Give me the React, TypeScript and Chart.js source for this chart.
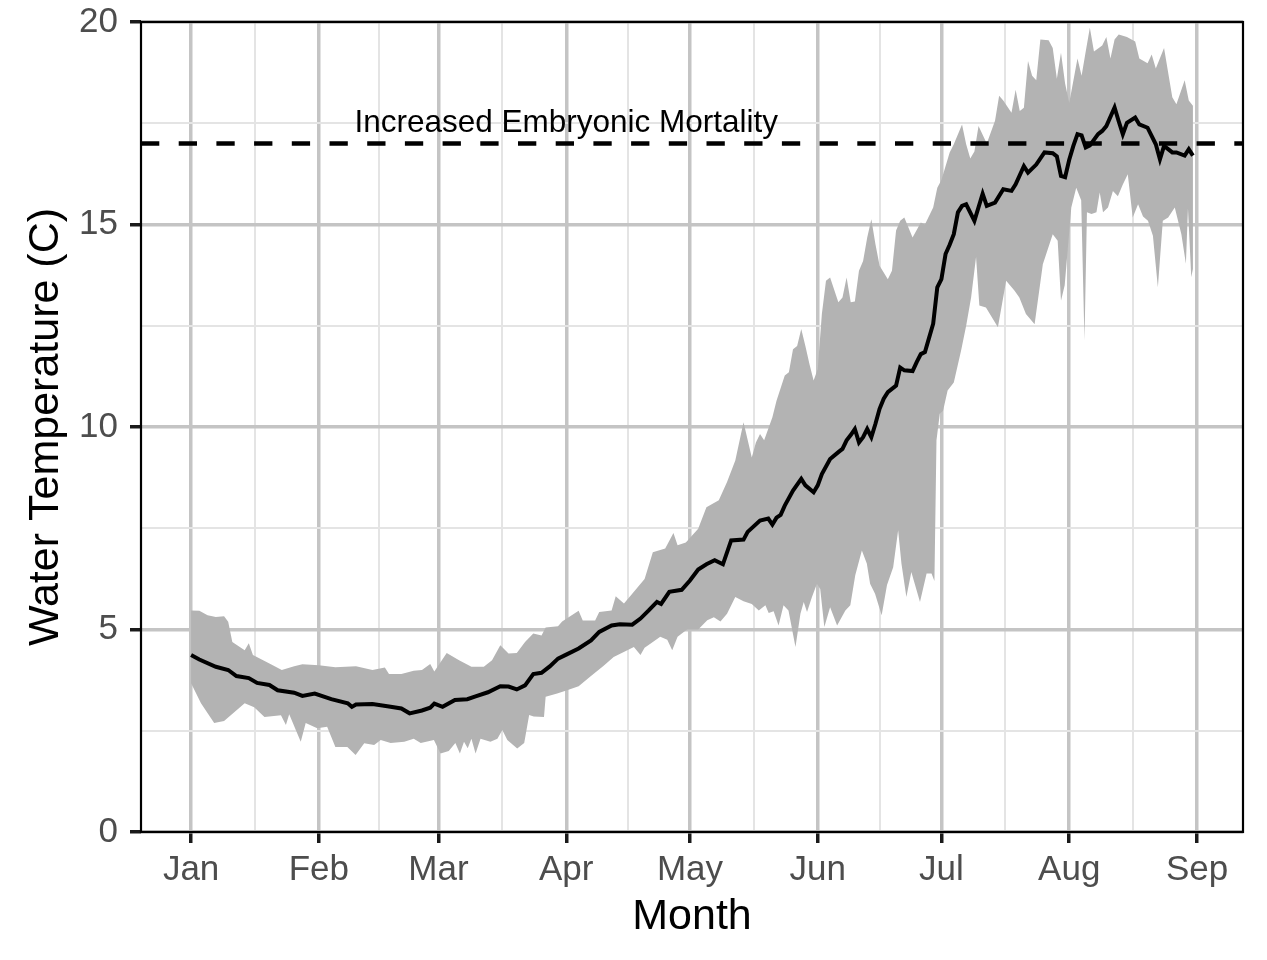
import React, { useEffect, useRef } from 'react';
import { Chart, registerables } from 'chart.js';

Chart.register(...registerables);

const FONT = "'Liberation Sans', Arial, Helvetica, sans-serif";

// Axis breaks (day of year, leap year; Jan 1 = day 0)
const monthStarts = [0, 31, 60, 91, 121, 152, 182, 213, 244];
const monthLabels = ['Jan', 'Feb', 'Mar', 'Apr', 'May', 'Jun', 'Jul', 'Aug', 'Sep'];
const yMajorTicks = [0, 5, 10, 15, 20];
const yMinorTicks = [2.5, 7.5, 12.5, 17.5];
const firstDay = 0;
const lastDay = 243;

// Mean daily water temperature (C)
const meanDays = [0, 2, 6, 9, 11, 14, 16, 19, 21, 25, 27, 30, 34, 38, 39, 40, 44, 48, 51, 53, 56, 58, 59, 61, 64, 67, 69, 72, 75, 77, 79, 81, 83, 85, 87, 89, 91, 94, 97, 99, 102, 104, 107, 109, 111, 113, 114, 116, 119, 121, 123, 125, 127, 129, 131, 134, 135, 138, 140, 141, 142, 143, 144, 146, 148, 149, 151, 152, 153, 155, 157, 158, 159, 160, 161, 162, 163, 164, 165, 166, 167, 168, 169, 171, 172, 173, 175, 176, 177, 178, 179, 180, 181, 182, 183, 184, 185, 186, 187, 188, 190, 192, 193, 195, 197, 199, 200, 202, 203, 205, 207, 209, 210, 211, 212, 213, 214, 215, 216, 217, 218, 220, 221, 222, 224, 225, 226, 227, 229, 230, 232, 234, 235, 236, 238, 239, 241, 242, 243];
const meanTemp = [4.37, 4.26, 4.08, 4.0, 3.85, 3.8, 3.68, 3.63, 3.5, 3.44, 3.36, 3.42, 3.28, 3.18, 3.09, 3.15, 3.16, 3.1, 3.05, 2.93, 3.0, 3.07, 3.17, 3.09, 3.26, 3.28, 3.35, 3.45, 3.6, 3.59, 3.52, 3.62, 3.9, 3.93, 4.09, 4.28, 4.38, 4.53, 4.73, 4.94, 5.1, 5.13, 5.12, 5.27, 5.47, 5.68, 5.63, 5.93, 5.98, 6.21, 6.48, 6.61, 6.71, 6.61, 7.2, 7.22, 7.41, 7.69, 7.74, 7.59, 7.76, 7.83, 8.06, 8.43, 8.72, 8.56, 8.39, 8.56, 8.84, 9.21, 9.38, 9.46, 9.67, 9.8, 9.95, 9.62, 9.75, 9.95, 9.75, 10.08, 10.45, 10.7, 10.86, 11.02, 11.47, 11.4, 11.38, 11.6, 11.8, 11.85, 12.2, 12.55, 13.45, 13.65, 14.27, 14.5, 14.76, 15.3, 15.46, 15.5, 15.09, 15.76, 15.46, 15.54, 15.87, 15.83, 15.99, 16.44, 16.28, 16.48, 16.78, 16.76, 16.68, 16.2, 16.17, 16.6, 16.94, 17.23, 17.2, 16.9, 16.95, 17.23, 17.31, 17.43, 17.89, 17.55, 17.23, 17.51, 17.64, 17.47, 17.39, 16.98, 16.61, 16.94, 16.78, 16.78, 16.7, 16.86, 16.7];

// Upper edge of the daily range (C)
const upperDays = [0, 2, 4, 6, 8, 9, 10, 13, 14, 15, 19, 22, 25, 27, 31, 35, 40, 44, 47, 48, 51, 54, 56, 58, 59, 62, 65, 68, 71, 73, 75, 77, 79, 81, 83, 85, 86, 89, 90, 94, 95, 98, 99, 102, 103, 105, 107, 110, 112, 115, 117, 118, 120, 123, 125, 128, 130, 132, 134, 136, 137, 138, 139, 141, 142, 144, 145, 146, 147, 148, 149, 150, 151, 152, 153, 154, 155, 157, 158, 159, 160, 161, 162, 163, 164, 165, 166, 167, 169, 170, 171, 172, 173, 175, 177, 178, 180, 181, 182, 184, 185, 187, 188, 189, 190, 191, 193, 195, 196, 197, 199, 200, 201, 202, 203, 204, 205, 206, 208, 209, 210, 211, 212, 213, 215, 216, 217, 218, 219, 221, 222, 223, 224, 225, 227, 229, 230, 232, 233, 234, 236, 238, 239, 241, 242, 243];
const upperTemp = [5.47, 5.46, 5.35, 5.31, 5.33, 5.19, 4.69, 4.49, 4.66, 4.37, 4.16, 4.0, 4.09, 4.14, 4.12, 4.07, 4.09, 4.0, 4.06, 3.9, 3.9, 3.98, 4.0, 4.15, 3.96, 4.42, 4.24, 4.08, 4.08, 4.24, 4.61, 4.41, 4.42, 4.69, 4.9, 4.85, 5.05, 5.08, 5.2, 5.46, 5.22, 5.22, 5.43, 5.47, 5.82, 5.64, 5.88, 6.25, 6.91, 7.0, 7.38, 7.08, 7.15, 7.49, 8.02, 8.19, 8.64, 9.17, 10.12, 9.25, 9.62, 9.83, 9.67, 10.24, 10.65, 11.27, 11.35, 11.92, 12.0, 12.42, 12.0, 11.55, 11.15, 11.43, 12.79, 13.61, 13.69, 13.08, 13.2, 13.69, 13.08, 13.1, 13.86, 14.1, 14.68, 15.13, 14.51, 13.98, 13.65, 13.86, 14.85, 15.09, 15.17, 14.68, 15.05, 15.0, 15.42, 15.91, 16.1, 16.78, 16.98, 17.47, 16.98, 16.63, 16.8, 17.43, 17.0, 17.56, 18.18, 18.06, 17.76, 18.33, 17.8, 17.88, 19.04, 18.67, 18.56, 19.57, 19.55, 19.36, 18.6, 19.24, 18.48, 18.0, 19.1, 18.67, 19.27, 19.86, 19.27, 19.42, 19.63, 19.1, 19.57, 19.69, 19.63, 19.52, 19.1, 18.98, 19.2, 18.85, 19.36, 18.14, 17.97, 18.56, 18.06, 17.93];

// Lower edge of the daily range (C)
const lowerDays = [0, 2.4, 5.6, 8, 13, 15.3, 17.8, 21.8, 23, 23.8, 25.4, 26.6, 27.8, 30.6, 33, 35, 37.9, 39.9, 42, 44.4, 46, 48.4, 51.7, 54, 55.7, 58.9, 60.5, 62.5, 64.1, 65.2, 66.2, 67.1, 68, 69, 70.2, 72.6, 74.3, 75.5, 76.7, 79.1, 80.8, 82, 83.1, 85.6, 86, 88.8, 91.2, 94, 97, 100, 102.5, 107.4, 109, 110, 111.4, 113.8, 115.5, 116.7, 118, 120.3, 123, 125.2, 126.8, 128.4, 130, 132, 134, 136, 137.7, 139.3, 140.1, 141.3, 142.5, 143.7, 144.9, 146.6, 147.8, 148.6, 149.4, 150.6, 151.8, 152.6, 153.6, 155, 156.7, 158.7, 159.9, 161.1, 162.7, 163.9, 164.7, 165.9, 167.5, 168.8, 170.3, 171.5, 172.3, 173.5, 174.7, 176.8, 178.4, 179.6, 180.3, 180.8, 181.6, 182.4, 183.5, 185, 186.8, 188, 189.2, 190.4, 191.2, 192.8, 195.7, 197.7, 199.7, 200.9, 202.5, 204.6, 206.6, 209, 210.2, 211, 211.9, 213.5, 214.7, 215.9, 216.7, 217.3, 218.4, 219.6, 220.4, 221.2, 222.4, 223.6, 224.8, 226, 227.2, 228.4, 229.7, 230.9, 232.1, 233.3, 234.5, 235.7, 237, 238.6, 240.2, 241.3, 241.8, 242.6, 243];
const lowerTemp = [3.67, 3.18, 2.69, 2.74, 3.18, 3.08, 2.84, 2.88, 2.64, 2.91, 2.52, 2.23, 2.69, 2.56, 2.6, 2.1, 2.1, 1.9, 2.19, 2.15, 2.27, 2.2, 2.23, 2.3, 2.2, 2.27, 1.94, 2.0, 2.2, 1.94, 2.23, 2.07, 2.3, 1.94, 2.3, 2.23, 2.3, 2.52, 2.27, 2.06, 2.2, 2.89, 2.85, 2.84, 3.34, 3.42, 3.5, 3.6, 3.85, 4.1, 4.32, 4.57, 4.37, 4.55, 4.65, 4.82, 4.75, 4.49, 4.82, 5.0, 5.0, 5.23, 5.3, 5.2, 5.39, 5.8, 5.7, 5.63, 5.47, 5.6, 5.41, 5.45, 5.1, 5.6, 5.47, 4.57, 5.39, 5.68, 5.43, 5.8, 6.13, 6.0, 5.06, 5.55, 5.1, 5.47, 5.6, 6.34, 6.95, 6.63, 6.13, 5.88, 5.35, 6.1, 6.54, 7.45, 6.63, 5.8, 6.42, 5.68, 6.38, 6.38, 6.2, 9.67, 10.33, 10.4, 10.9, 11.1, 11.9, 12.5, 13.2, 14.2, 13.0, 12.95, 12.46, 13.61, 13.37, 13.2, 12.79, 12.54, 14.02, 14.76, 14.6, 13.12, 13.5, 15.42, 15.91, 15.6, 12.13, 15.3, 15.26, 15.3, 15.79, 15.3, 15.42, 15.83, 15.7, 15.99, 16.24, 15.17, 15.5, 15.2, 15.09, 14.72, 13.45, 15.09, 15.17, 15.42, 14.76, 14.03, 15.4, 13.7, 13.9];

const mortalityThreshold = 17;
const annotationLabel = 'Increased Embryonic Mortality';
const annotationDay = 91;
const annotationTemp = 17.5;

const MAJOR_GRID = '#C4C4C4';
const MINOR_GRID = '#E4E4E4';

export default function App() {
  const canvasRef = useRef<HTMLCanvasElement | null>(null);

  useEffect(() => {
    const canvas = canvasRef.current;
    if (!canvas) return;

    const pad = (lastDay - firstDay) * 0.05;
    const xMin = firstDay - pad;
    const xMax = lastDay + pad;
    const xMinor = monthStarts.slice(1).map((d, i) => (d + monthStarts[i]) / 2);
    const xTickValues = [...monthStarts, ...xMinor].sort((a, b) => a - b);
    const yTickValues = [...yMajorTicks, ...yMinorTicks].sort((a, b) => a - b);
    const isXMajor = (c: any) => !!c.tick && monthStarts.includes(c.tick.value);
    const isYMajor = (c: any) => !!c.tick && yMajorTicks.includes(c.tick.value);

    const ribbon = [
      ...upperDays.map((d, i) => ({ x: d, y: upperTemp[i] })),
      ...lowerDays.map((d, i) => ({ x: d, y: lowerTemp[i] })).reverse(),
    ];
    const mean = meanDays.map((d, i) => ({ x: d, y: meanTemp[i] }));
    const thresholdLine = [
      { x: xMin, y: mortalityThreshold },
      { x: xMax, y: mortalityThreshold },
    ];

    const annotationPlugin = {
      id: 'mortalityLabel',
      afterDatasetsDraw(chart: any) {
        const { ctx, scales } = chart;
        const px = scales.x.getPixelForValue(annotationDay);
        const py = scales.y.getPixelForValue(annotationTemp);
        ctx.save();
        ctx.font = `31.5px ${FONT}`;
        ctx.fillStyle = '#000000';
        ctx.textAlign = 'center';
        ctx.textBaseline = 'middle';
        ctx.fillText(annotationLabel, px, py);
        ctx.restore();
      },
    };

    const panelBorder = {
      id: 'panelBorder',
      afterDraw(chart: any) {
        const { ctx, chartArea: a } = chart;
        ctx.save();
        ctx.strokeStyle = '#000000';
        ctx.lineWidth = 2.2;
        ctx.strokeRect(a.left, a.top, a.right - a.left, a.bottom - a.top);
        ctx.restore();
      },
    };

    const chart = new Chart(canvas, {
      type: 'line',
      data: {
        datasets: [
          {
            label: 'Range',
            data: ribbon,
            fill: 'shape',
            backgroundColor: '#B3B3B3',
            borderColor: 'rgba(0,0,0,0)',
            borderWidth: 0,
            pointRadius: 0,
            order: 3,
          },
          {
            label: 'Mean',
            data: mean,
            borderColor: '#000000',
            borderWidth: 4,
            pointRadius: 0,
            fill: false,
            order: 2,
          },
          {
            label: 'Increased Embryonic Mortality',
            data: thresholdLine,
            borderColor: '#000000',
            borderWidth: 4.5,
            borderDash: [18.3, 19.4],
            pointRadius: 0,
            fill: false,
            order: 1,
          },
        ],
      },
      options: {
        animation: false,
        responsive: true,
        maintainAspectRatio: false,
        layout: { padding: { top: 22, right: 24, bottom: 0, left: 0 } },
        plugins: {
          legend: { display: false },
          tooltip: { enabled: false },
        },
        scales: {
          x: {
            type: 'linear',
            min: xMin,
            max: xMax,
            afterBuildTicks: (s: any) => {
              s.ticks = xTickValues.map((v) => ({ value: v }));
            },
            afterFit: (s: any) => {
              s.height = 128;
              s.paddingLeft = 0;
              s.paddingRight = 0;
              s.paddingTop = 0;
              s.paddingBottom = 0;
            },
            ticks: {
              autoSkip: false,
              maxRotation: 0,
              minRotation: 0,
              padding: 6,
              color: '#4D4D4D',
              font: { family: FONT, size: 35 },
              callback: (v: any) => {
                const i = monthStarts.indexOf(Number(v));
                return i >= 0 ? monthLabels[i] : '';
              },
            },
            grid: {
              color: (c: any) => (isXMajor(c) ? MAJOR_GRID : MINOR_GRID),
              lineWidth: (c: any) => (isXMajor(c) ? 3.5 : 2),
              drawTicks: true,
              tickLength: 11,
              tickWidth: 3.5,
              tickColor: (c: any) => (isXMajor(c) ? '#1A1A1A' : 'rgba(0,0,0,0)'),
            },
            border: { display: false },
            title: {
              display: true,
              text: 'Month',
              color: '#000000',
              font: { family: FONT, size: 43 },
              padding: { top: 0, bottom: 17 },
            },
          },
          y: {
            type: 'linear',
            min: 0,
            max: 20,
            afterBuildTicks: (s: any) => {
              s.ticks = yTickValues.map((v) => ({ value: v }));
            },
            afterFit: (s: any) => {
              s.width = 141;
              s.paddingLeft = 0;
              s.paddingRight = 0;
              s.paddingTop = 0;
              s.paddingBottom = 0;
            },
            ticks: {
              autoSkip: false,
              padding: 12,
              color: '#4D4D4D',
              font: { family: FONT, size: 35 },
              callback: (v: any) => (yMajorTicks.includes(Number(v)) ? String(v) : ''),
            },
            grid: {
              color: (c: any) => (isYMajor(c) ? MAJOR_GRID : MINOR_GRID),
              lineWidth: (c: any) => (isYMajor(c) ? 3.5 : 2),
              drawTicks: true,
              tickLength: 11,
              tickWidth: 3.5,
              tickColor: (c: any) => (isYMajor(c) ? '#1A1A1A' : 'rgba(0,0,0,0)'),
            },
            border: { display: false },
            title: {
              display: true,
              text: 'Water Temperature (C)',
              color: '#000000',
              font: { family: FONT, size: 43 },
              padding: { top: 20, bottom: 0 },
            },
          },
        },
      },
      plugins: [annotationPlugin, panelBorder],
    } as any);

    return () => chart.destroy();
  }, []);

  return (
    <div style={{ position: 'fixed', left: 0, top: 0, width: 1267, height: 960, background: '#ffffff' }}>
      <canvas ref={canvasRef} />
    </div>
  );
}
